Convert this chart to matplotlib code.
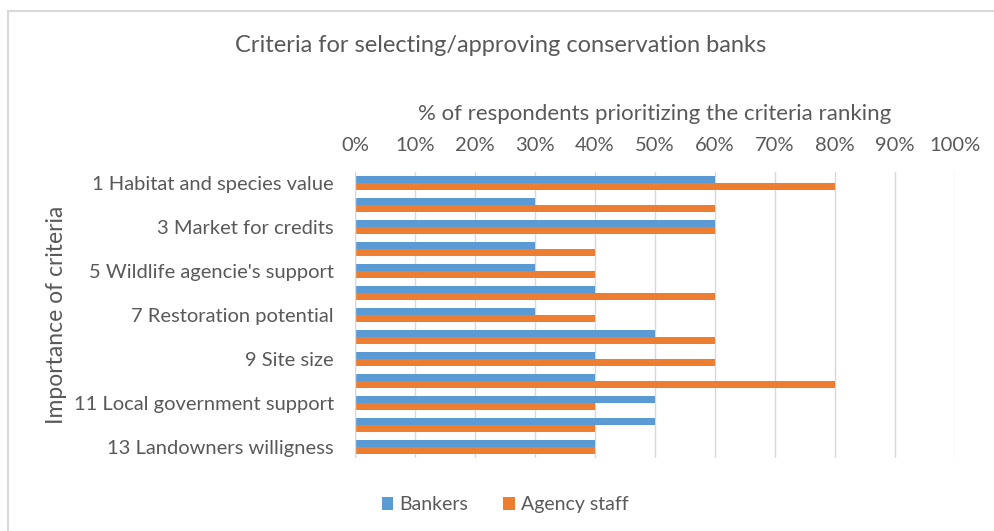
import matplotlib.pyplot as plt
from matplotlib.lines import Line2D
from matplotlib.ticker import PercentFormatter
import numpy as np

plt.rcParams['font.family'] = ['Lato', 'DejaVu Sans']

# criteria rank (only odd ones are labelled in the chart)
criteria = ['1 Habitat and species value', '', '3 Market for credits', '',
            "5 Wildlife agencie's support", '', '7 Restoration potential', '',
            '9 Site size', '', '11 Local government support', '',
            '13 Landowners willigness']
bankers = [60, 30, 60, 30, 30, 40, 30, 50, 40, 40, 50, 50, 40]
agency = [80, 60, 60, 40, 40, 60, 40, 60, 60, 80, 40, 40, 40]

blue = '#5B9BD5'
orange = '#ED7D31'
grey = '#595959'

fig = plt.figure(figsize=(9.94, 5.31), dpi=100)
ax = fig.add_axes([0.357, 0.1375, 0.604, 0.5385])

y = np.arange(len(criteria))
h = 0.3
ax.barh(y - h / 2, bankers, height=h, color=blue, label='Bankers', zorder=3)
ax.barh(y + h / 2, agency, height=h, color=orange, label='Agency staff', zorder=3)

ax.set_xlim(0, 100)
ax.set_ylim(len(criteria) - 0.5, -0.5)
ax.set_xticks(np.arange(0, 101, 10))
ax.xaxis.set_major_formatter(PercentFormatter(decimals=0))
ax.xaxis.tick_top()
ax.xaxis.set_label_position('top')
ax.set_yticks(y)
ax.set_yticklabels(criteria)
ax.tick_params(length=0, colors=grey, labelsize=14.5)
ax.tick_params(axis='x', pad=13)
ax.tick_params(axis='y', pad=15)
ax.grid(axis='x', color='#D9D9D9', linewidth=1, zorder=0)
for s in ax.spines.values():
    s.set_visible(False)
ax.axvline(0, color='#D9D9D9', linewidth=1, zorder=4)

ax.set_xlabel('% of respondents prioritizing the criteria ranking',
              fontsize=16, color=grey, labelpad=12)
ax.set_ylabel('Importance of criteria', fontsize=16.5, color=grey, labelpad=5)

fig.text(0.504, 0.915, 'Criteria for selecting/approving conservation banks',
         ha='center', va='center', fontsize=17, color=grey)

fig.legend(loc='center', bbox_to_anchor=(0.508, 0.049), ncol=2, frameon=False,
           fontsize=14, labelcolor=grey, handlelength=0.6, handleheight=0.6,
           handletextpad=0.3, columnspacing=1.8)

# chart-area border (only top and left edges visible in the crop)
fig.add_artist(Line2D([0.008, 1.0], [0.979, 0.979], transform=fig.transFigure,
                      color='#D9D9D9', linewidth=1.5))
fig.add_artist(Line2D([0.008, 0.008], [0.0, 0.979], transform=fig.transFigure,
                      color='#D9D9D9', linewidth=1.5))

fig.savefig('out.png', dpi=100)
